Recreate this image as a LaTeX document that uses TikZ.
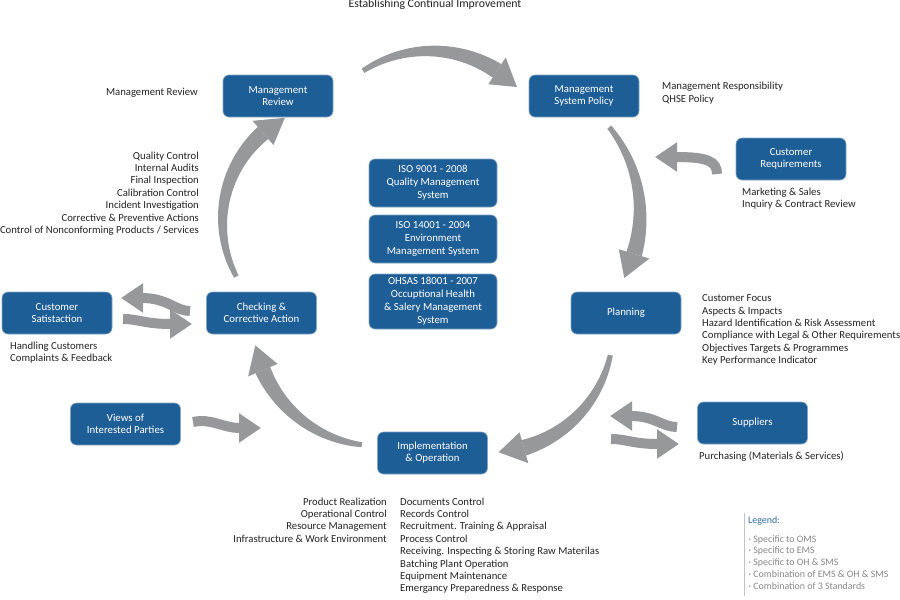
\documentclass[tikz,border=0pt]{standalone}
\usepackage{fontspec}
\setmainfont{Carlito}
\usetikzlibrary{arrows.meta}
\definecolor{boxblue}{RGB}{30,94,150}
\definecolor{arrowgray}{RGB}{150,152,154}
\definecolor{txt}{RGB}{35,35,35}
\definecolor{legblue}{RGB}{40,105,165}
\definecolor{leggray}{RGB}{135,135,135}
\tikzset{
  box/.style={fill=boxblue, draw=boxblue!55!white, line width=0.6pt, rounded corners=6pt,
    text=white, align=center, font=\fontsize{10.8}{12.2}\selectfont, inner sep=2pt,
    minimum width=110pt, minimum height=42pt},
  isobox/.style={box, minimum width=128pt, minimum height=48pt, font=\fontsize{10.8}{12.9}\selectfont},
  lbl/.style={text=txt, inner sep=0pt, font=\fontsize{10.7}{12.4}\selectfont},
  leglbl/.style={text=leggray, inner sep=0pt, align=left, font=\fontsize{9.9}{11.8}\selectfont},
  sidearr/.style={draw=arrowgray, line width=10pt, -{Triangle[width=28pt,length=22pt]}},
}
% #1 cx, #2 cy, #3 radius, #4 tail angle, #5 head-base angle, #6 tip angle
\newcommand{\cyclearrow}[6]{%
  \fill[arrowgray]
    plot[domain=#4:#5,samples=40] ({#1+(#3+(5+11*(\x-(#4))/((#5)-(#4)))/2)*cos(\x)},{#2+(#3+(5+11*(\x-(#4))/((#5)-(#4)))/2)*sin(\x)})
    -- plot[domain=#5:#4,samples=40] ({#1+(#3-(5+11*(\x-(#4))/((#5)-(#4)))/2)*cos(\x)},{#2+(#3-(5+11*(\x-(#4))/((#5)-(#4)))/2)*sin(\x)})
    -- cycle;
  \fill[arrowgray] ({#1+(#3+16)*cos(#5)},{#2+(#3+16)*sin(#5)})
    -- ({#1+#3*cos(#6)},{#2+#3*sin(#6)})
    -- ({#1+(#3-16)*cos(#5)},{#2+(#3-16)*sin(#5)}) -- cycle;
}
\begin{document}
\begin{tikzpicture}[x=1pt,y=-1pt]
\useasboundingbox[fill=white] (0,0) rectangle (900,600);

% cycle arrows
\cyclearrow{430}{174}{123}{-123}{-57}{-45}
\cyclearrow{502}{214}{138}{-39}{16.8}{27.6}
\cyclearrow{490}{329.5}{123}{12}{74}{86}
\cyclearrow{377}{321.7}{124}{97}{157}{169}
\cyclearrow{340}{221.5}{117.4}{152}{229}{242}

% boxes
\node[box] (mr) at (278,96) {Management\\Review};
\node[box] (msp) at (584,96) {Management\\System Policy};
\node[box] (cr) at (791,159) {Customer\\Requirements};
\node[box] (plan) at (626,313) {Planning};
\node[box] (sup) at (752.5,423) {Suppliers};
\node[box] (impl) at (432.5,453) {Implementation\\\& Operation};
\node[box] (views) at (125.5,424) {Views of\\Interested Parties};
\node[box] (cs) at (57,313) {Customer\\Satistaction};
\node[box] (chk) at (261.5,313) {Checking \&\\Corrective Action};
\node[isobox] (iso1) at (433,183) {ISO 9001 - 2008\\Quality Management\\System};
\node[isobox] (iso2) at (433,239) {ISO 14001 - 2004\\Environment\\Management System};
\node[isobox, minimum height=55pt] (iso3) at (433,301.5) {OHSAS 18001 - 2007\\Occuptional Health\\\& Salery Management\\System};

% side arrows
\coordinate (crtail) at (717,174);
\coordinate (crtip) at (655,157);
\draw[sidearr] (crtail) .. controls (717,161) and (707,157) .. (crtip);
\coordinate (vtail) at (193,422);
\coordinate (vtip) at (261,428);
\draw[sidearr] (vtail) .. controls (212,418) and (222,428) .. (vtip);
\coordinate (cs1tail) at (190,311);
\coordinate (cs1tip) at (121,298);
\draw[sidearr] (cs1tail) .. controls (175,311) and (168,298) .. (cs1tip);
\coordinate (cs2tail) at (123,319);
\coordinate (cs2tip) at (192,324);
\draw[sidearr] (cs2tail) .. controls (138,319) and (145,324) .. (cs2tip);
\coordinate (s1tail) at (677,427);
\coordinate (s1tip) at (610,416);
\draw[sidearr] (s1tail) .. controls (662,427) and (655,416) .. (s1tip);
\coordinate (s2tail) at (611,439);
\coordinate (s2tip) at (679,444);
\draw[sidearr] (s2tail) .. controls (626,439) and (633,444) .. (s2tip);

% labels
\node[lbl, anchor=north, font=\fontsize{11.8}{13}\selectfont] (title) at (435,-1) {Establishing Continual Improvement};
\node[lbl, anchor=north east] (mrl) at (198,87.5) {Management Review};
\node[lbl, anchor=north west, align=left] (mspl) at (662,82) {Management Responsibility\\QHSE Policy};
\node[lbl, anchor=north west, align=left] (crl) at (742,187.5) {Marketing \& Sales\\Inquiry \& Contract Review};
\node[lbl, anchor=north east, align=right] (chkl) at (199,151.5) {Quality Control\\Internal Audits\\Final Inspection\\Calibration Control\\Incident Investigation\\Corrective \& Preventive Actions\\Control of Nonconforming Products / Services};
\node[lbl, anchor=north west, align=left] (planl) at (702,294.5) {Customer Focus\\Aspects \& Impacts\\Hazard Identification \& Risk Assessment\\Compliance with Legal \& Other Requirements\\Objectives Targets \& Programmes\\Key Performance Indicator};
\node[lbl, anchor=north west, align=left] (csl) at (10,341.5) {Handling Customers\\Complaints \& Feedback};
\node[lbl, anchor=north west] (supl) at (699,451.5) {Purchasing (Materials \& Services)};
\node[lbl, anchor=north east, align=right] (impll) at (387,497.5) {Product Realization\\Operational Control\\Resource Management\\Infrastructure \& Work Environment};
\node[lbl, anchor=north west, align=left] (implr) at (400,497.5) {Documents Control\\Records Control\\Recruitment. Training \& Appraisal\\Process Control\\Receiving. Inspecting \& Storing Raw Materilas\\Batching Plant Operation\\Equipment Maintenance\\Emergancy Preparedness \& Response};

% legend
\coordinate (legtop) at (744,513);
\coordinate (legbot) at (744,596);
\draw[leggray!50, line width=0.8pt] (legtop) -- (legbot);
\node[leglbl, text=legblue, anchor=north west] (legt) at (748,516.5) {Legend:};
\node[leglbl, anchor=north west] (legi) at (748.5,535) {· Specific to OMS\\· Specific to EMS\\· Specific to OH \& SMS\\· Combination of EMS \& OH \& SMS\\· Combination of 3 Standards};
\end{tikzpicture}
\end{document}
